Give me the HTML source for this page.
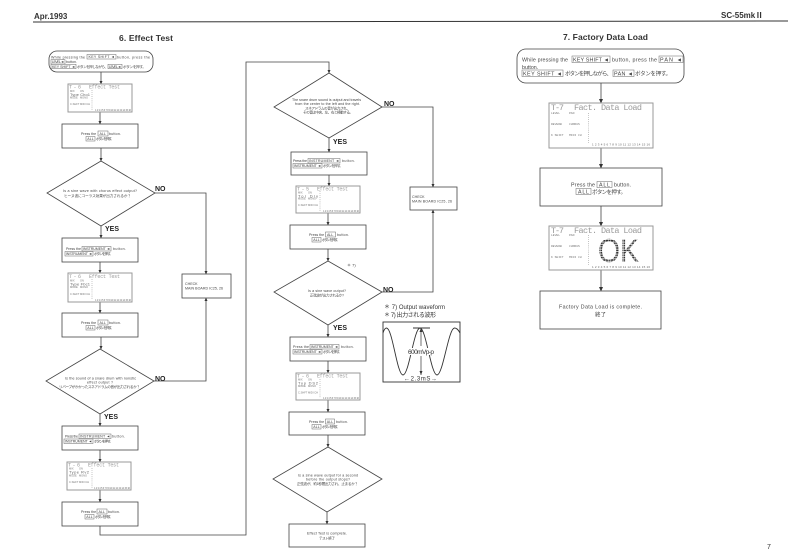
<!DOCTYPE html>
<html><head><meta charset="utf-8"><style>
html,body{margin:0;padding:0;background:#fff;width:793px;height:560px;overflow:hidden}
svg{display:block}
text{font-family:"Liberation Sans","Noto Sans CJK JP",sans-serif;fill:#444;font-size:3.6px}
.b{fill:#fff;stroke:#444;stroke-width:.8}
.k{fill:none;stroke:#666;stroke-width:.5}
.l{fill:none;stroke:#444;stroke-width:.8}
.a{fill:#333;stroke:none}
.lcd{fill:#fff;stroke:#999;stroke-width:1}
.t{font-family:"Liberation Mono",monospace;fill:#999;font-size:5px}
.T{font-family:"Liberation Mono",monospace;fill:#999;font-size:8.5px}
.s{font-size:2.6px;fill:#777}
.S{font-size:3px;fill:#666}
.m{font-family:"Liberation Mono",monospace;font-size:5px;fill:#777}
.d{fill:none;stroke:#888;stroke-width:.7;stroke-dasharray:.7 1.4}
.h{font-weight:bold;fill:#333;font-size:8px}
.n{font-weight:bold;fill:#222;font-size:7px}
.c{font-size:3.6px}
.p{font-size:6px;fill:#333}
</style></head><body>
<svg width="793" height="560" viewBox="0 0 793 560" xmlns="http://www.w3.org/2000/svg">
<defs><pattern id="dots" width="2.6" height="2.4" patternUnits="userSpaceOnUse"><rect width="2.2" height="1.7" fill="#333"/></pattern></defs>
<rect width="793" height="560" fill="#fff"/>
<!-- header -->
<line x1="33" y1="22" x2="788" y2="21" stroke="#333" stroke-width="1"/>
<text x="34" y="19" class="h">Apr.1993</text>
<text x="721" y="18" class="h">SC-55mkⅡ</text>
<text x="119" y="41" class="h" style="font-size:8.5px" textLength="54">6. Effect  Test</text>
<text x="563" y="40" class="h" style="font-size:8.5px" textLength="85">7. Factory  Data  Load</text>
<text x="767" y="549" style="font-size:7px;fill:#333">7</text>

<!-- connectors left column -->
<path class="l" d="M101 72V84M100 112V124M101 148V161M101 226V238M100 262V273M100 302V313M101 337V349M100 414V426M100 450V462M100 490V502M100 526V535H246V62H329V73"/>
<path class="l" d="M155 193H206V274M154 381H206V298"/>
<path class="a" d="M99.5 81h3L101 84.5zM98.5 121h3L100 124.5zM99.5 158h3L101 161.5zM99.5 235h3L101 238.5zM98.5 270h3L100 273.5zM98.5 310h3L100 313.5zM99.5 346h3L101 349.5zM98.5 423h3L100 426.5zM98.5 459h3L100 462.5zM98.5 499h3L100 502.5zM327.5 70h3L329 73.5zM204.5 271h3L206 274.5zM204.5 301h3L206 297.5z"/>
<!-- connectors middle column -->
<path class="l" d="M329 138V152M329 175V186M328 213V225M328 249V261M328 325V337M328 361V373M328 400V412M328 435V447M327 512V524"/>
<path class="l" d="M382 107H433V187M382 292H433V210"/>
<path class="a" d="M327.5 149h3L329 152.5zM327.5 183h3L329 186.5zM326.5 222h3L328 225.5zM326.5 258h3L328 261.5zM326.5 334h3L328 337.5zM326.5 370h3L328 373.5zM326.5 409h3L328 412.5zM326.5 444h3L328 447.5zM325.5 521h3L327 524.5zM431.5 184h3L433 187.5zM431.5 213h3L433 209.5z"/>
<!-- connectors right column -->
<path class="l" d="M601 83V103M601 148V168M601 206V226M601 270V291"/>
<path class="a" d="M599 99h4L601 103.5zM599 164h4L601 168.5zM599 222h4L601 226.5zM599 287h4L601 291.5z"/>

<!-- start left -->
<rect class="b" x="49" y="51" width="104" height="21" rx="8"/>
<text x="51" y="58.5" textLength="34">While pressing the</text><rect class="k" x="87" y="54.5" width="29" height="4.5"/><text x="88.5" y="58.2" textLength="26">KEY SHIFT ◄</text><text x="117" y="58.5" textLength="33">button, press the</text>
<rect class="k" x="51" y="59.7" width="14" height="4.3"/><text x="52" y="63.2" textLength="12">LEVEL◄</text><text x="66" y="63.2">button.</text>
<rect class="k" x="51" y="64.3" width="25" height="4.3"/><text x="52" y="67.8" textLength="23">KEY SHIFT ◄</text><text x="77" y="67.8" textLength="31">ボタンを押しながら、</text><rect class="k" x="108" y="64.3" width="14" height="4.3"/><text x="109" y="67.8" textLength="12">LEVEL◄</text><text x="123" y="67.8" textLength="23">ボタンを押す。</text>

<!-- LCD 1 -->
<rect class="lcd" x="68" y="84" width="64" height="28"/>
<text class="t" x="69" y="88.5" textLength="12">T-6</text><text class="t" x="89" y="88.5" textLength="31">Effect Test</text>
<text class="s" x="70" y="92">MIX</text><text class="s" x="80" y="92">ON</text>
<text class="S" x="70" y="96" style="font-size:4px" textLength="20">Type Cho1</text>
<text class="s" x="70" y="98.5">MODE</text><text class="s" x="80" y="98.5">MONO</text>
<text class="s" x="70" y="105">C.SHFT</text><text class="s" x="80" y="105">MIDI CH</text>
<line class="d" x1="92" y1="90" x2="92" y2="110"/>
<text class="s" x="95" y="111" textLength="36">1 2 3 4 5 6 7 8 9 10 11 12 13 14 15 16</text>

<rect class="b" x="62" y="124" width="76" height="24"/>
<text x="81" y="135">Press the</text><rect class="k" x="98" y="131" width="10" height="5"/><text x="99.5" y="135">ALL</text><text x="109" y="135" textLength="12">button.</text>
<rect class="k" x="86" y="136.5" width="9" height="4.5"/><text x="87.3" y="140.2">ALL</text><text x="96" y="140.2" textLength="18">ボタンを押す。</text>

<!-- diamond 1 -->
<polygon class="b" points="101,161 155,193 101,226 47,193"/>
<text x="63" y="192" textLength="74">Is a sine wave with chorus effect output?</text>
<text x="64" y="197" textLength="67">ヒーヌ波にコーラス効果が出力されるか？</text>
<text x="155" y="191" class="n">NO</text>
<text x="105" y="231" class="n">YES</text>

<!-- check 1 -->
<rect class="b" x="182" y="274" width="49" height="24"/>
<text x="185" y="285">CHECK</text>
<text x="185" y="289.5" textLength="38">MAIN BOARD IC25, 26</text>

<!-- box 2 -->
<rect class="b" x="62" y="238" width="76" height="24"/>
<text x="66" y="250" textLength="15">Press the</text><rect class="k" x="82" y="246.5" width="29" height="4.5"/><text x="83" y="250" textLength="27">INSTRUMENT ◄</text><text x="113" y="250" textLength="13">button.</text>
<rect class="k" x="65" y="251.5" width="28" height="4.5"/><text x="66" y="255.2" textLength="26">INSTRUMENT ◄</text><text x="94" y="255.2" textLength="19">ボタンを押す。</text>

<!-- LCD 2 -->
<rect class="lcd" x="68" y="273" width="64" height="29"/>
<text class="t" x="69" y="278" textLength="12">T-6</text><text class="t" x="89" y="278" textLength="31">Effect Test</text>
<text class="s" x="70" y="281.5">MIX</text><text class="s" x="80" y="281.5">ON</text>
<text class="S" x="70" y="285.5" style="font-size:4px" textLength="20">Type Fbc1</text>
<text class="s" x="70" y="288">MODE</text><text class="s" x="80" y="288">MONO</text>
<text class="s" x="70" y="295">C.SHFT</text><text class="s" x="80" y="295">MIDI CH</text>
<line class="d" x1="92" y1="279" x2="92" y2="300"/>
<text class="s" x="95" y="301" textLength="36">1 2 3 4 5 6 7 8 9 10 11 12 13 14 15 16</text>

<rect class="b" x="62" y="313" width="76" height="24"/>
<text x="81" y="324">Press the</text><rect class="k" x="98" y="320" width="10" height="5"/><text x="99.5" y="324">ALL</text><text x="109" y="324" textLength="12">button.</text>
<rect class="k" x="86" y="325.5" width="9" height="4.5"/><text x="87.3" y="329.2">ALL</text><text x="96" y="329.2" textLength="18">ボタンを押す。</text>

<!-- diamond 2 -->
<polygon class="b" points="100,349 154,381 100,414 46,381"/>
<text x="65" y="379.5" textLength="71">Is the sound of a snare drum with nonstic</text>
<text x="87" y="383.5" textLength="26">effect output ?</text>
<text x="59" y="388" textLength="81">リバーブがかかったスネアドラムの音が出力されるか？</text>
<text x="155" y="381" class="n">NO</text>
<text x="104" y="419" class="n">YES</text>

<!-- box 4 -->
<rect class="b" x="62" y="426" width="76" height="24"/>
<text x="65" y="437.5" textLength="13">Press the</text><rect class="k" x="79" y="434" width="32" height="4.5"/><text x="80" y="437.7" textLength="30">INSTRUMENT ◄</text><text x="112" y="437.5" textLength="13">button.</text>
<rect class="k" x="64" y="439" width="29" height="4.5"/><text x="65" y="442.7" textLength="27">INSTRUMENT ◄</text><text x="94" y="442.7" textLength="19">ボタンを押す。</text>

<!-- LCD 3 -->
<rect class="lcd" x="67" y="462" width="64" height="28"/>
<text class="t" x="68" y="466.5" textLength="12">T-6</text><text class="t" x="88" y="466.5" textLength="31">Effect Test</text>
<text class="s" x="69" y="469.5">MIX</text><text class="s" x="79" y="469.5">ON</text>
<text class="S" x="69" y="473.5" style="font-size:4px" textLength="20">Type Rv2</text>
<text class="s" x="69" y="476.5">MODE</text><text class="s" x="79" y="476.5">MONO</text>
<text class="s" x="69" y="483">C.SHFT</text><text class="s" x="79" y="483">MIDI CH</text>
<line class="d" x1="92" y1="468" x2="92" y2="488"/>
<text class="s" x="94" y="489" textLength="36">1 2 3 4 5 6 7 8 9 10 11 12 13 14 15 16</text>

<rect class="b" x="62" y="502" width="76" height="24"/>
<text x="81" y="513">Press the</text><rect class="k" x="97" y="509" width="10" height="5"/><text x="98.5" y="513">ALL</text><text x="108" y="513" textLength="12">button.</text>
<rect class="k" x="85" y="514.5" width="9" height="4.5"/><text x="86.3" y="518.2">ALL</text><text x="95" y="518.2" textLength="18">ボタンを押す。</text>

<!-- diamond 3 -->
<polygon class="b" points="329,73 382,107 329,138 274,107"/>
<text x="292" y="101" textLength="69">The snare drum sound is output and travels</text>
<text x="295" y="105" textLength="65">from the center to the left and the right.</text>
<text x="305" y="109.5" textLength="45">スネアドラムの音が出力され、</text>
<text x="303" y="113.5" textLength="50">その音は中央、左、右と移動する。</text>
<text x="384" y="106" class="n">NO</text>
<text x="333" y="144" class="n">YES</text>

<!-- check 2 -->
<rect class="b" x="410" y="187" width="47" height="23"/>
<text x="412" y="198">CHECK</text>
<text x="412" y="202.5" textLength="40">MAIN BOARD IC25, 26</text>

<rect class="b" x="291" y="152" width="76" height="23"/>
<text x="293" y="162" textLength="14">Press the</text><rect class="k" x="308" y="158.5" width="32" height="4.5"/><text x="309" y="162.2" textLength="30">INSTRUMENT ◄</text><text x="342" y="162" textLength="13">button.</text>
<rect class="k" x="293" y="163.5" width="29" height="4.5"/><text x="294" y="167.2" textLength="27">INSTRUMENT ◄</text><text x="323" y="167.2" textLength="20">ボタンを押す。</text>

<!-- LCD 4 -->
<rect class="lcd" x="296" y="186" width="64" height="27"/>
<text class="t" x="297" y="190.5" textLength="12">T-5</text><text class="t" x="317" y="190.5" textLength="31">Effect Test</text>
<text class="s" x="298" y="193.5">MIX</text><text class="s" x="308" y="193.5">ON</text>
<text class="S" x="298" y="197.5" style="font-size:4px" textLength="20">Tor Dly</text>
<text class="s" x="298" y="199.5">MODE</text><text class="s" x="308" y="199.5">MONO</text>
<text class="s" x="298" y="206">C.SHFT</text><text class="s" x="308" y="206">MIDI CH</text>
<line class="d" x1="320" y1="191" x2="320" y2="211"/>
<text class="s" x="323" y="212" textLength="36">1 2 3 4 5 6 7 8 9 10 11 12 13 14 15 16</text>

<rect class="b" x="290" y="225" width="76" height="24"/>
<text x="309" y="236">Press the</text><rect class="k" x="325.5" y="232" width="10" height="5"/><text x="327" y="236">ALL</text><text x="337" y="236" textLength="12">button.</text>
<rect class="k" x="312" y="237.5" width="9" height="4.5"/><text x="313.3" y="241.2">ALL</text><text x="322" y="241.2" textLength="18">ボタンを押す。</text>

<!-- diamond 4 -->
<polygon class="b" points="328,261 382,292 328,325 274,292"/>
<text x="308" y="292" textLength="38">Is a sine wave output?</text>
<text x="310" y="296.5" textLength="34">正弦波が出力されるか?</text>
<text x="347" y="266.5" style="font-size:4px">＊ 7)</text>
<text x="383" y="292" class="n">NO</text>
<text x="333" y="330" class="n">YES</text>

<!-- waveform -->
<text x="384" y="309" class="p" textLength="61">＊ 7)  Output  waveform</text>
<text x="384" y="317" class="p" textLength="52">＊ 7)  出力される波形</text>
<rect x="383" y="322" width="77" height="60" fill="#fff" stroke="#333" stroke-width=".9"/>
<path fill="none" stroke="#333" stroke-width=".9" d="M383 333Q384.5 328 386.5 328C392.5 328 397 375 403 375C409 375 414 328 420 328C426 328 431 375 437 375C443 375 448.5 328 454.5 328Q457.5 328 460 333"/>
<line x1="413" y1="328" x2="430" y2="328" stroke="#333" stroke-width=".9"/>
<line x1="421" y1="328" x2="421" y2="346" stroke="#333" stroke-width=".7"/>
<line x1="421" y1="356" x2="421" y2="375" stroke="#333" stroke-width=".7"/>
<path class="a" d="M419.5 332L421 328l1.5 4zM419.5 371L421 375l1.5-4z"/>
<rect x="407" y="348" width="28" height="7" fill="#fff"/>
<text x="408" y="354" style="font-size:6.5px;fill:#333" textLength="26">600mVp-p</text>
<text x="404" y="380.5" style="font-size:6px;fill:#333" textLength="33">←2.3mS→</text>

<rect class="b" x="290" y="337" width="76" height="24"/>
<text x="293" y="348" textLength="16">Press the</text><rect class="k" x="310" y="344.5" width="29" height="4.5"/><text x="311" y="348.2" textLength="27">INSTRUMENT ◄</text><text x="341" y="348" textLength="13">button.</text>
<rect class="k" x="293" y="349.5" width="29" height="4.5"/><text x="294" y="353.2" textLength="27">INSTRUMENT ◄</text><text x="323" y="353.2" textLength="19">ボタンを押す。</text>

<!-- LCD 5 -->
<rect class="lcd" x="296" y="373" width="64" height="27"/>
<text class="t" x="297" y="377.5" textLength="12">T-6</text><text class="t" x="317" y="377.5" textLength="31">Effect Test</text>
<text class="s" x="298" y="380.5">MIX</text><text class="s" x="308" y="380.5">ON</text>
<text class="S" x="298" y="384.5" style="font-size:4px" textLength="20">Typ DS2</text>
<text class="s" x="298" y="387">MODE</text><text class="s" x="308" y="387">MONO</text>
<text class="s" x="298" y="393.5">C.SHFT</text><text class="s" x="308" y="393.5">MIDI CH</text>
<line class="d" x1="320" y1="379" x2="320" y2="398"/>
<text class="s" x="323" y="399" textLength="36">1 2 3 4 5 6 7 8 9 10 11 12 13 14 15 16</text>

<rect class="b" x="289" y="412" width="76" height="23"/>
<text x="309" y="423">Press the</text><rect class="k" x="325.5" y="419" width="9" height="5"/><text x="326.8" y="423">ALL</text><text x="336" y="423" textLength="12">button.</text>
<rect class="k" x="312" y="424.5" width="9" height="4.5"/><text x="313.3" y="428.2">ALL</text><text x="322" y="428.2" textLength="18">ボタンを押す。</text>

<!-- diamond 5 -->
<polygon class="b" points="328,447 382,479 327,512 273,479"/>
<text x="298" y="476.5" textLength="60">Is a sine wave output for a second</text>
<text x="306" y="480.5" textLength="44">before the output stops?</text>
<text x="297" y="485" textLength="61">正弦波が、約1秒間出力され、止まるか？</text>

<rect class="b" x="289" y="524" width="76" height="23"/>
<text x="307" y="534.5" textLength="40">Effect Test is complete.</text>
<text x="319" y="539.5" textLength="16">テスト終了</text>

<!-- RIGHT -->
<rect class="b" x="517" y="49" width="167" height="34" rx="9" stroke-width="1"/>
<text x="522" y="61.5" style="font-size:5.3px" textLength="46">While pressing the</text>
<rect class="k" x="572" y="56" width="38" height="6.5" stroke-width=".7"/><text x="573" y="61.5" style="font-size:5.4px" textLength="36">KEY SHIFT ◄</text>
<text x="612" y="61.5" style="font-size:5.3px" textLength="45">button, press the</text>
<rect class="k" x="659" y="56" width="24" height="6.5" stroke-width=".7"/><text x="660" y="61.5" style="font-size:5.4px" textLength="22">PAN ◄</text>
<text x="522" y="69" style="font-size:5.3px">button.</text>
<rect class="k" x="522" y="70" width="41" height="6.5" stroke-width=".7"/><text x="523" y="75.5" style="font-size:5.4px" textLength="39">KEY SHIFT ◄</text>
<text x="565" y="75.5" style="font-size:5.5px" textLength="47">ボタンを押しながら、</text>
<rect class="k" x="613" y="70" width="21" height="6.5" stroke-width=".7"/><text x="614" y="75.5" style="font-size:5.4px" textLength="19">PAN ◄</text>
<text x="635" y="75.5" style="font-size:5.5px" textLength="36">ボタンを押す。</text>

<!-- LCD right 1 -->
<rect class="lcd" x="549" y="103" width="104" height="45" stroke-width="1.2"/>
<text class="T" x="551" y="110" textLength="13">T-7</text><text class="T" x="574" y="110" textLength="68">Fact. Data Load</text>
<text class="m" x="551" y="114" style="font-size:3px">LEVEL</text><text class="m" x="569" y="114" style="font-size:3px">PAN</text>
<text class="m" x="551" y="125" style="font-size:3px">REVERB</text><text class="m" x="569" y="125" style="font-size:3px">CHORUS</text>
<text class="m" x="551" y="136" style="font-size:3px">K SHIFT</text><text class="m" x="569" y="136" style="font-size:3px">MIDI CH</text>
<line class="d" x1="588.5" y1="113" x2="588.5" y2="143" stroke-width="1"/>
<text x="592" y="145.5" style="font-size:3px;fill:#666" textLength="58">1 2 3 4 5 6 7 8 9 10 11 12 13 14 15 16</text>

<rect class="b" x="540" y="168" width="122" height="38" stroke-width="1"/>
<text x="571" y="186.5" style="font-size:5.3px" textLength="24">Press the</text>
<rect class="k" x="597" y="181.5" width="15" height="6" stroke-width=".7"/><text x="599" y="186.5" style="font-size:5.3px" textLength="11">ALL</text>
<text x="614" y="186.5" style="font-size:5.3px" textLength="17">button.</text>
<rect class="k" x="576" y="188.5" width="15" height="6" stroke-width=".7"/><text x="578" y="193.5" style="font-size:5.3px" textLength="11">ALL</text>
<text x="592" y="194" style="font-size:5.5px" textLength="34">ボタンを押す。</text>

<!-- LCD right 2 -->
<rect class="lcd" x="549" y="226" width="104" height="44" stroke-width="1.2"/>
<text class="T" x="551" y="233" textLength="13">T-7</text><text class="T" x="574" y="233" textLength="68">Fact. Data Load</text>
<text class="m" x="551" y="236" style="font-size:3px">LEVEL</text><text class="m" x="569" y="236" style="font-size:3px">PAN</text>
<text class="m" x="551" y="247" style="font-size:3px">REVERB</text><text class="m" x="569" y="247" style="font-size:3px">CHORUS</text>
<text class="m" x="551" y="258" style="font-size:3px">K SHIFT</text><text class="m" x="569" y="258" style="font-size:3px">MIDI CH</text>
<line class="d" x1="588.5" y1="235" x2="588.5" y2="265" stroke-width="1"/>
<text x="592" y="268" style="font-size:3px;fill:#666" textLength="58">1 2 3 4 5 6 7 8 9 10 11 12 13 14 15 16</text>
<text x="598" y="262" style="font-size:33px;fill:url(#dots)" textLength="41" lengthAdjust="spacingAndGlyphs">OK</text>

<rect class="b" x="540" y="291" width="121" height="38" stroke-width="1"/>
<text x="559" y="308.5" style="font-size:5.3px" textLength="83">Factory Data Load is complete.</text>
<text x="595" y="316.5" style="font-size:5.5px" textLength="11">終了</text>
</svg>
</body></html>
